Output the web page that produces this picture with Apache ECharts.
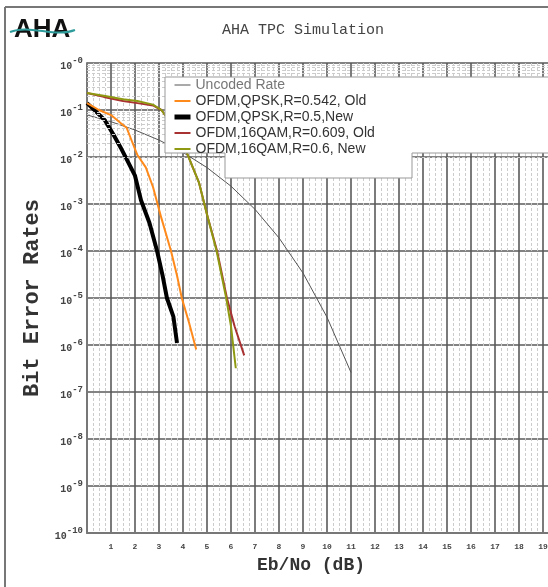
<!DOCTYPE html>
<html><head><meta charset="utf-8">
<script src="https://cdn.jsdelivr.net/npm/echarts@6/dist/echarts.min.js"></script>
<style>html,body{margin:0;padding:0;background:#fff}#c{width:548px;height:587px}</style>
</head><body><div id="c"></div>
<script>
// Data (Eb/No in dB, bit error rate)
const seriesNames = ['Uncoded Rate','OFDM,QPSK,R=0.542, Old','OFDM,QPSK,R=0.5,New','OFDM,16QAM,R=0.609, Old','OFDM,16QAM,R=0.6, New'];
const uncoded = [[0,0.0786],[1,0.0563],[2,0.0375],[3,0.0229],[4,0.0125],[5,0.00595],[6,0.00239],[7,7.7e-4],[8,1.9e-4],[9,3.4e-5],[10,3.9e-6],[11,2.6e-7]];
const qpskOld = [[0,0.14],[0.5,0.1],[1.0,0.078],[1.4,0.053],[1.65,0.042],[1.85,0.023],[2.1,0.011],[2.45,0.006],[2.75,0.0023],[3.1,5e-4],[3.5,1e-4],[3.75,3e-5],[3.95,1e-5],[4.25,3e-6],[4.55,8e-7]];
const qpskNew = [[0,0.14],[0.4,0.09],[0.75,0.06],[1.1,0.03],[1.4,0.016],[1.65,0.009],[2.0,0.004],[2.25,0.0012],[2.6,4e-4],[2.92,1e-4],[3.15,3e-5],[3.33,1e-5],[3.6,4e-6],[3.75,1.1e-6]];
const qam16Old = [[0,0.23],[0.7,0.19],[1.5,0.155],[2.1,0.14],[2.75,0.125],[3.1,0.1],[3.6,0.045],[4.17,0.012],[4.67,2.8e-3],[5.0,6e-4],[5.42,1e-4],[5.83,1e-5],[6.15,2.5e-6],[6.55,6e-7]];
const qam16New = [[0,0.23],[0.7,0.2],[1.5,0.17],[2.1,0.155],[2.75,0.13],[3.1,0.1],[3.6,0.045],[4.17,0.012],[4.67,2.8e-3],[5.0,6e-4],[5.4,1e-4],[5.8,1e-5],[6.0,2.5e-6],[6.2,3.2e-7]];
const xTicks = [1,2,3,4,5,6,7,8,9,10,11,12,13,14,15,16,17,18,19];
const decades = [0,-1,-2,-3,-4,-5,-6,-7,-8,-9,-10];
const legendWidths = [1, 2, 5, 2, 2];
const legendTextColors = ['#777', '#333', '#333', '#333', '#333'];

const minorLogLines = [];
decades.slice(1).forEach(e => { for (let m = 2; m <= 9; m++) minorLogLines.push({yAxis: m * Math.pow(10, e)}); });

const chart = echarts.init(document.getElementById('c'), null, {renderer:'canvas'});
const mono = '"Liberation Mono", "Courier New", monospace';
chart.setOption({
  backgroundColor:'#fff',
  animation:false,
  grid:{left:87, top:63, width:480, height:470, containLabel:false, outerBoundsMode:'none'},
  xAxis:{type:'value', min:0, max:20, interval:1,
    axisLine:{show:true, lineStyle:{color:'#777', width:2}},
    axisTick:{show:false},
    axisLabel:{margin:10, fontSize:8, fontWeight:'bold', color:'#444', fontFamily:mono,
      formatter: v => xTicks.indexOf(v) >= 0 ? String(v) : ''},
    splitLine:{show:true, lineStyle:{color:'#5a5a5a', width:1.6}},
    minorTick:{show:false, splitNumber:4},
    minorSplitLine:{show:true, lineStyle:{color:'#ccc', width:1, type:[3,2]}}
  },
  yAxis:{type:'log', logBase:10, min:1e-10, max:1, interval:1,
    name:'Bit Error Rates', nameLocation:'middle', nameGap:41, nameRotate:90,
    nameTextStyle:{fontSize:22, fontWeight:'bold', fontFamily:mono, color:'#333'},
    axisLine:{show:true, lineStyle:{color:'#777', width:2}},
    axisTick:{show:false},
    axisLabel:{margin:4, formatter: v => { const e = Math.round(Math.log10(v)); return '{b|10}{s|-' + Math.abs(e) + '}'; },
      rich:{b:{fontSize:10, fontWeight:'bold', color:'#444', fontFamily:mono, padding:[6,0,0,0]},
            s:{fontSize:9, fontWeight:'bold', color:'#444', fontFamily:mono, padding:[0,0,5,0]}}},
    splitLine:{show:true, lineStyle:{color:'#5a5a5a', width:1.6}}
  },
  legend:{show:true, orient:'vertical', left:167, top:73, itemGap:2, itemWidth:16, itemHeight:12,
    data:seriesNames.map((n, i) => ({name:n, lineStyle:{width:legendWidths[i]}, textStyle:{color:legendTextColors[i]}})),
    itemStyle:{opacity:0, borderWidth:0},
    textStyle:{fontSize:14, color:'#333', fontFamily:'"Liberation Sans", Arial, sans-serif'}, z:20},
  graphic:[
    {type:'polygon', z:15, shape:{points:[[165,77],[560,77],[560,153],[412,153],[412,178],[225,178],[225,153],[165,153]]},
      style:{fill:'#fff', stroke:'#999', lineWidth:1}},
    {type:'text', left:222, top:23, style:{text:'AHA TPC Simulation', fontSize:15, fontFamily:mono, fill:'#444'}},
    {type:'text', left:14, top:17, style:{text:'AHA', fontSize:26, fontWeight:'bold', fontFamily:'"Liberation Sans", Arial, sans-serif', fill:'#111'}},
    {type:'bezierCurve', shape:{x1:10, y1:32, x2:75, y2:30, cpx1:30, cpy1:24, cpx2:55, cpy2:38}, style:{stroke:'#2f9c9c', lineWidth:2}},
    {type:'text', left:257, top:556, style:{text:'Eb/No (dB)', fontSize:18, fontWeight:'bold', fontFamily:mono, fill:'#333'}},
    {type:'line', shape:{x1:5, y1:7, x2:548, y2:7}, style:{stroke:'#777', lineWidth:2}},
    {type:'line', shape:{x1:5, y1:7, x2:5, y2:587}, style:{stroke:'#777', lineWidth:2}}
  ],
  series:[
    {name:seriesNames[0], type:'line', data:uncoded, symbol:'none', z:3, lineStyle:{color:'#555', width:1}, itemStyle:{color:'#555'}},
    {name:seriesNames[1], type:'line', data:qpskOld, symbol:'none', z:5, lineStyle:{color:'#ff8a1c', width:2}, itemStyle:{color:'#ff8a1c'}},
    {name:seriesNames[2], type:'line', data:qpskNew, symbol:'none', z:4, lineStyle:{color:'#000', width:4}, itemStyle:{color:'#000'}},
    {name:seriesNames[3], type:'line', data:qam16Old, symbol:'none', z:6, lineStyle:{color:'#a83232', width:2}, itemStyle:{color:'#a83232'}},
    {name:seriesNames[4], type:'line', data:qam16New, symbol:'none', z:7, lineStyle:{color:'#8f9a12', width:2}, itemStyle:{color:'#8f9a12'}},
    {name:'minor', type:'line', data:[], z:1, silent:true,
      markLine:{silent:true, symbol:'none', label:{show:false}, animation:false,
        lineStyle:{color:'#ccc', width:1, type:[3,2]}, data:minorLogLines}}
  ]
});
</script></body></html>
